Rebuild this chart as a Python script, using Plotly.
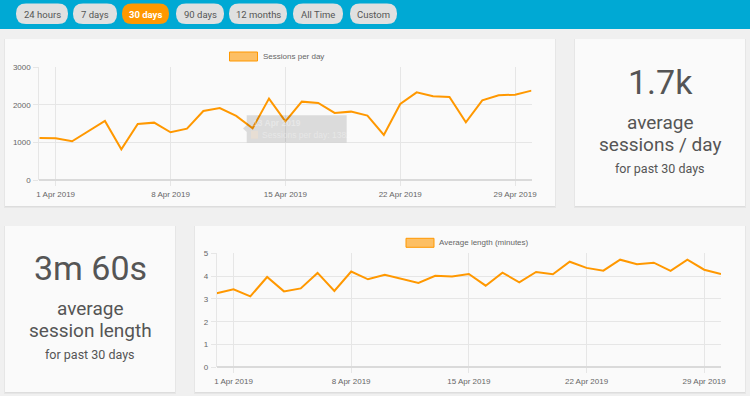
import plotly.graph_objects as go

# ---------------- data ----------------
dates = ["2019-03-31"] + [f"2019-04-{d:02d}" for d in range(1, 31)]
sessions_per_day = [1124, 1115, 1035, 1310, 1575, 823, 1496, 1531, 1274, 1372,
                    1841, 1920, 1708, 1382, 2168, 1566, 2088, 2053, 1788, 1823,
                    1717, 1204, 2027, 2336, 2230, 2212, 1540, 2124, 2257, 2274, 2381]
avg_length_min = [3.25, 3.42, 3.11, 3.96, 3.33, 3.46, 4.14, 3.35, 4.20, 3.86,
                  4.06, 3.87, 3.70, 4.01, 3.98, 4.09, 3.58, 4.15, 3.73, 4.18,
                  4.08, 4.63, 4.36, 4.24, 4.72, 4.52, 4.59, 4.23, 4.72, 4.28, 4.09]
tick_dates = ["2019-04-01", "2019-04-08", "2019-04-15", "2019-04-22", "2019-04-29"]
tick_labels = ["1 Apr 2019", "8 Apr 2019", "15 Apr 2019", "22 Apr 2019", "29 Apr 2019"]
sessions_ticks = [0, 1000, 2000, 3000]
length_ticks = [0, 1, 2, 3, 4, 5]
buttons = ["24 hours", "7 days", "30 days", "90 days", "12 months", "All Time", "Custom"]
active_button = "30 days"
series1_name = "Sessions per day"
series2_name = "Average length (minutes)"
avg_sessions_text = "1.7k"
avg_length_text = "3m 60s"
tooltip_title = "13 Apr 2019"
tooltip_body = "Sessions per day: 1382"

# ---------------- layout helpers ----------------
W, H = 750, 396
ORANGE = "#ff9800"
PAGE = "#f0f0f0"
CARD = "#fafafa"
CHART_FONT = "Liberation Sans, Arial, sans-serif"
CARD_FONT = "Roboto, sans-serif"


def px(x):
    return x / W


def py(y):
    return 1 - y / H


def rect(x0, y0, x1, y1, fill, line=None, layer="below", lw=1):
    return dict(type="rect", xref="paper", yref="paper",
                x0=px(x0), x1=px(x1), y0=py(y1), y1=py(y0),
                fillcolor=fill, layer=layer,
                line=dict(width=lw if line else 0, color=line or fill))


def rounded(x0, y0, x1, y1, r, fill):
    pts = [
        ("M", [(x0 + r, y0)]),
        ("L", [(x1 - r, y0)]),
        ("Q", [(x1, y0), (x1, y0 + r)]),
        ("L", [(x1, y1 - r)]),
        ("Q", [(x1, y1), (x1 - r, y1)]),
        ("L", [(x0 + r, y1)]),
        ("Q", [(x0, y1), (x0, y1 - r)]),
        ("L", [(x0, y0 + r)]),
        ("Q", [(x0, y0), (x0 + r, y0)]),
    ]
    path = ""
    for cmd, ps in pts:
        path += cmd + " " + " ".join(f"{px(a):.5f},{py(b):.5f}" for a, b in ps) + " "
    path += "Z"
    return dict(type="path", xref="paper", yref="paper", path=path,
                fillcolor=fill, line=dict(width=0), layer="below")


shapes = []
annotations = []

# top bar
shapes.append(rect(0, 0, 750, 29, "#00a9d4"))

# buttons
btn_x = [(16, 68), (73, 117), (122, 169), (176, 224), (229, 287), (293, 343), (350, 397)]
for label, (bx0, bx1) in zip(buttons, btn_x):
    active = label == active_button
    shapes.append(rounded(bx0, 3.5, bx1, 24, 10, ORANGE if active else "#e0e0e0"))
    annotations.append(dict(
        x=px((bx0 + bx1) / 2), y=py(14), xref="paper", yref="paper",
        text=f"<b>{label}</b>" if active else label, showarrow=False,
        xanchor="center", yanchor="middle",
        font=dict(family=CARD_FONT, size=9.5, color="#ffffff" if active else "#555555")))

# cards (with soft shadow)
cards = [(5, 39, 555, 206), (575, 39, 745, 206), (5, 226, 175, 392), (195, 226, 745, 392)]
for (cx0, cy0, cx1, cy1) in cards:
    shapes.append(rect(cx0 - 1, cy0, cx1 + 1, cy1 + 2, "#e6e6e6"))
    shapes.append(rect(cx0, cy0, cx1, cy1 + 1, "#dddddd"))
    shapes.append(rect(cx0, cy0, cx1, cy1, CARD))

# legends
shapes.append(rect(229.5, 52, 257.5, 61, "rgba(255,152,0,0.6)", ORANGE))
annotations.append(dict(x=px(261), y=py(56.5), xref="paper", yref="paper",
                        text=series1_name, showarrow=False, xanchor="left", yanchor="middle",
                        font=dict(family=CHART_FONT, size=8, color="#666666")))
shapes.append(rect(406, 238.3, 434, 247.3, "rgba(255,152,0,0.6)", ORANGE))
annotations.append(dict(x=px(437), y=py(242.8), xref="paper", yref="paper",
                        text=series2_name, showarrow=False, xanchor="left", yanchor="middle",
                        font=dict(family=CHART_FONT, size=8, color="#666666")))

# fading tooltip
shapes.append(dict(type="path", xref="paper", yref="paper",
                   path=f"M {px(246.7)},{py(125)} L {px(243)},{py(128.5)} L {px(246.7)},{py(132)} Z",
                   fillcolor="rgba(0,0,0,0.12)", line=dict(width=0), layer="above"))
shapes.append(dict(type="rect", xref="paper", yref="paper",
                   x0=px(246.7), x1=px(346.7), y0=py(142.5), y1=py(115.3),
                   fillcolor="rgba(0,0,0,0.12)", line=dict(width=0), layer="above"))
shapes.append(dict(type="rect", xref="paper", yref="paper",
                   x0=px(251), x1=px(258), y0=py(138.7), y1=py(130.7),
                   fillcolor="rgba(255,230,200,0.35)", line=dict(width=0), layer="above"))
annotations.append(dict(x=px(251), y=py(122.5), xref="paper", yref="paper",
                        text=f"<b>{tooltip_title}</b>", showarrow=False, xanchor="left",
                        yanchor="middle",
                        font=dict(family=CHART_FONT, size=8.5, color="rgba(255,255,255,0.35)")))
annotations.append(dict(x=px(260), y=py(134.8), xref="paper", yref="paper",
                        text=tooltip_body, showarrow=False, xanchor="left", yanchor="middle",
                        font=dict(family=CHART_FONT, size=8.5, color="rgba(255,255,255,0.35)")))

# KPI cards text
def kpi(cx, lines):
    for text, y, size in lines:
        annotations.append(dict(x=px(cx), y=py(y), xref="paper", yref="paper", text=text,
                                showarrow=False, xanchor="center", yanchor="middle",
                                font=dict(family=CARD_FONT, size=size, color="#555555")))


kpi(660, [(avg_sessions_text, 82, 34), ("average", 122.5, 19),
          ("sessions / day", 144.5, 19), ("for past 30 days", 168, 12.5)])
kpi(90, [(avg_length_text, 268, 34), ("average", 308.5, 19),
         ("session length", 330.5, 19), ("for past 30 days", 354, 12.5)])

# ---------------- figure ----------------
fig = go.Figure()
fig.add_trace(go.Scatter(x=dates, y=sessions_per_day, mode="lines", name=series1_name,
                         line=dict(color=ORANGE, width=2), xaxis="x", yaxis="y",
                         showlegend=False))
fig.add_trace(go.Scatter(x=dates, y=avg_length_min, mode="lines", name=series2_name,
                         line=dict(color=ORANGE, width=2), xaxis="x2", yaxis="y2",
                         showlegend=False))

GRID = "#e6e6e6"
common_x = dict(type="date", tickvals=tick_dates, ticktext=tick_labels, showgrid=True,
                gridcolor=GRID, gridwidth=1, ticks="outside", ticklen=5, tickcolor=GRID,
                tickfont=dict(family=CHART_FONT, size=8, color="#666666"),
                showline=False, zeroline=False, fixedrange=True, automargin=False,
                range=[dates[0], dates[-1]], ticklabelstandoff=1)
common_y = dict(showgrid=True, gridcolor=GRID, gridwidth=1, ticks="outside", ticklen=5,
                tickcolor=GRID, tickfont=dict(family=CHART_FONT, size=8, color="#666666"),
                showline=True, linecolor=GRID, linewidth=1, automargin=False,
                zeroline=True, zerolinecolor="#dadada", zerolinewidth=2,
                fixedrange=True, ticklabelstandoff=1)

fig.update_layout(
    template="none",
    width=W, height=H, autosize=False,
    margin=dict(l=0, r=0, t=0, b=0, pad=0, autoexpand=False),
    paper_bgcolor=PAGE, plot_bgcolor="rgba(0,0,0,0)",
    showlegend=False, hovermode=False,
    xaxis=dict(common_x, domain=[px(39.3), px(531.5)], anchor="y"),
    yaxis=dict(common_y, domain=[py(180.3), py(67.3)], range=[0, 3000],
               tickvals=sessions_ticks, anchor="x"),
    xaxis2=dict(common_x, domain=[px(216.7), px(721)], anchor="y2"),
    yaxis2=dict(common_y, domain=[py(367.3), py(253.3)], range=[0, 5],
                tickvals=length_ticks, anchor="x2"),
    shapes=shapes, annotations=annotations,
)

fig.write_html("out.html", config={"displayModeBar": False},
               post_script="document.documentElement.style.overflow='hidden';"
                           "document.body.style.margin='0';document.body.style.overflow='hidden';")
